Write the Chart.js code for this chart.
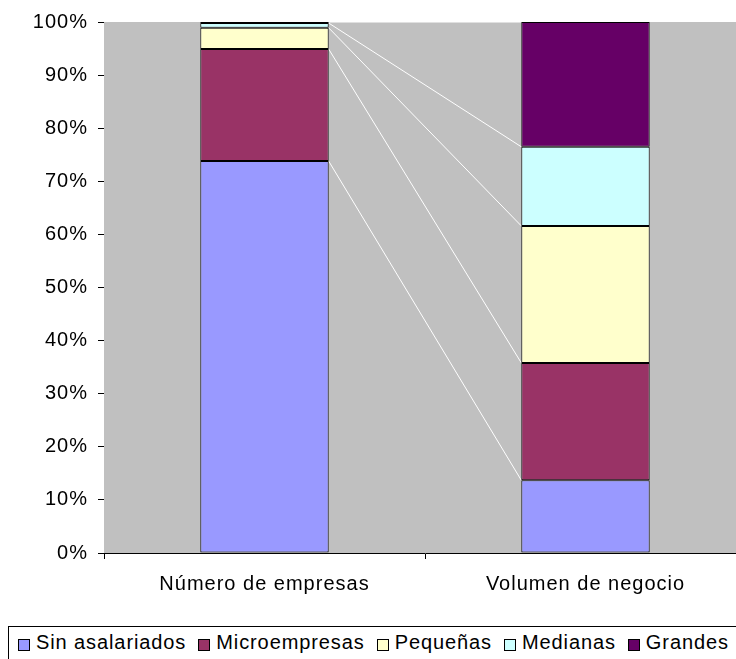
<!DOCTYPE html>
<html>
<head>
<meta charset="utf-8">
<script src="https://cdn.jsdelivr.net/npm/chart.js@4/dist/chart.umd.min.js"></script>
<style>
  html, body { margin: 0; padding: 0; background: #fff; overflow: hidden; width: 736px; height: 659px; }
  #wrap { position: relative; width: 736px; height: 659px; overflow: hidden; }
  #chartBox { position: absolute; left: 0; top: 0; width: 746px; height: 620px; }
  #legend {
    position: absolute; left: 8px; top: 626px; width: 760px; height: 50px;
    border: 1px solid #000; box-sizing: border-box;
    font-family: "Liberation Sans", Arial, sans-serif; font-size: 20px; color: #000;
    letter-spacing: 0.9px; line-height: 23px;
    display: flex; align-items: flex-start; padding: 4px 0 0 9px; white-space: nowrap;
  }
  #legend .item { display: flex; align-items: center; margin-right: 12px; }
  #legend .sw { width: 10px; height: 10px; border: 1px solid #000; margin-right: 6px; position: relative; top: 2px; }
</style>
</head>
<body>
<div id="wrap">
  <div id="chartBox"><canvas id="c" width="746" height="620"></canvas></div>
  <div id="legend"></div>
</div>
<script>
// Categories and share (%) of each company size group
const categories = ['Número de empresas', 'Volumen de negocio'];
const seriesNames = ['Sin asalariados', 'Microempresas', 'Pequeñas', 'Medianas', 'Grandes'];
const sinAsalariados = [73.8, 13.7];
const microempresas  = [21.1, 22.1];
const pequenas       = [4.0, 25.8];
const medianas       = [0.9, 14.9];
const grandes        = [0.2, 23.5];
const yTicks = [0, 10, 20, 30, 40, 50, 60, 70, 80, 90, 100];

const seriesValues = [sinAsalariados, microempresas, pequenas, medianas, grandes];
const seriesColors = ['#9999FF', '#993366', '#FFFFCC', '#CCFFFF', '#660066'];

const FONT = '"Liberation Sans", Arial, sans-serif';

// slightly spaced-out axis text
const textSpacing = {
  id: 'textSpacing',
  beforeDraw(chart) { chart.ctx.letterSpacing = '1px'; },
  afterDraw(chart) { chart.ctx.letterSpacing = '0px'; }
};

// grey plot background
const plotBg = {
  id: 'plotBg',
  beforeDatasetsDraw(chart) {
    const { ctx, chartArea: a } = chart;
    ctx.save();
    ctx.fillStyle = '#C0C0C0';
    ctx.fillRect(a.left, a.top, a.right - a.left, a.bottom - a.top);
    ctx.restore();
  }
};

// white series lines joining each segment top across the two bars
const seriesLines = {
  id: 'seriesLines',
  beforeDatasetsDraw(chart) {
    const { ctx } = chart;
    ctx.save();
    ctx.strokeStyle = '#FFFFFF';
    ctx.lineWidth = 1;
    chart.data.datasets.forEach((ds, i) => {
      const meta = chart.getDatasetMeta(i);
      const a = meta.data[0], b = meta.data[1];
      ctx.beginPath();
      ctx.moveTo(a.x + a.width / 2, a.y);
      ctx.lineTo(b.x - b.width / 2, b.y);
      ctx.stroke();
    });
    ctx.restore();
  }
};

new Chart(document.getElementById('c'), {
  type: 'bar',
  data: {
    labels: categories,
    datasets: seriesNames.map((name, i) => ({
      label: name,
      data: seriesValues[i],
      backgroundColor: seriesColors[i],
      borderColor: '#000000',
      borderWidth: 1,
      borderSkipped: false,
      barPercentage: 0.4,
      categoryPercentage: 1.0
    }))
  },
  options: {
    responsive: false,
    animation: false,
    layout: { padding: { top: 21, right: 0, left: 0, bottom: 0 } },
    plugins: { legend: { display: false }, tooltip: { enabled: false } },
    scales: {
      x: {
        stacked: true,
        grid: { display: true, offset: true, drawOnChartArea: false, drawTicks: true, tickLength: 6, color: '#000' },
        border: { display: true, color: '#000' },
        ticks: { color: '#000', font: { family: FONT, size: 20 }, padding: 13, maxRotation: 0 },
        afterFit(scale) { scale.height = 67; }
      },
      y: {
        stacked: true,
        min: 0, max: 100,
        afterBuildTicks(scale) { scale.ticks = yTicks.map(v => ({ value: v })); },
        grid: { display: true, drawOnChartArea: false, drawTicks: true, tickLength: 6, color: '#000' },
        border: { display: true, color: '#000' },
        ticks: { color: '#000', font: { family: FONT, size: 20 }, padding: 10, callback: v => v + '%' },
        afterFit(scale) { scale.width = 104; }
      }
    }
  },
  plugins: [textSpacing, plotBg, seriesLines]
});

// legend
const legend = document.getElementById('legend');
seriesNames.forEach((name, i) => {
  const item = document.createElement('span');
  item.className = 'item';
  const sw = document.createElement('span');
  sw.className = 'sw';
  sw.style.background = seriesColors[i];
  const t = document.createElement('span');
  t.textContent = name;
  item.appendChild(sw);
  item.appendChild(t);
  legend.appendChild(item);
});
</script>
</body>
</html>
